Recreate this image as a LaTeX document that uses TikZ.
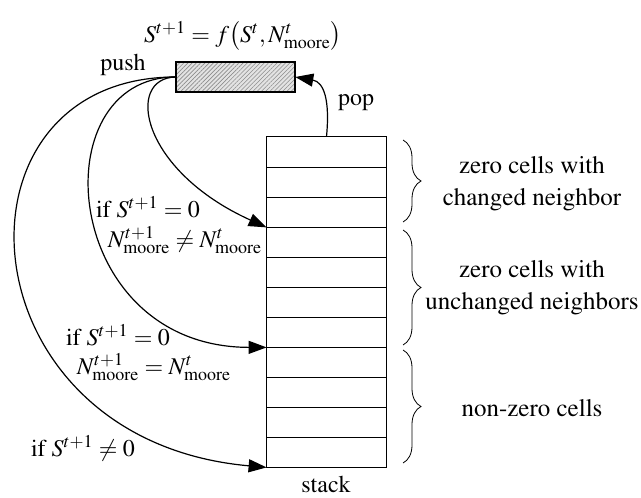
\documentclass[tikz,border=0pt]{standalone}
\usepackage[T1]{fontenc}
\usepackage{mathptmx}
\usepackage{tikz}
\usetikzlibrary{arrows.meta,calc,positioning,patterns.meta}
\usetikzlibrary{decorations.pathreplacing}

\tikzset{
  txt/.style={font=\fontsize{12}{16}\selectfont, inner sep=0pt},
  grptxt/.style={font=\fontsize{12.5}{16}\selectfont, inner sep=0pt, align=center},
  cell/.style={minimum width=59.5pt, minimum height=15pt, inner sep=0pt},
  buffer/.style={draw, line width=0.6pt, minimum width=59.5pt, minimum height=15pt, inner sep=0pt,
    pattern={Lines[angle=45,distance=1.5pt,line width=0.3pt]}, pattern color=gray!90},
  flow/.style={line width=0.6pt, -{Triangle[length=9pt,width=6.5pt]}},
  grp/.style={line width=0.4pt, decorate, decoration={brace, amplitude=9pt}}
}

\begin{document}
\begin{tikzpicture}[x=0.5pt, y=-0.5pt]
            \useasboundingbox (0,0) rectangle (641,497);
            \def\top{137}
            \def\h{30}
            % stack cells
            \foreach \i in {1,...,11}
              \node[cell] (c\i) at (326.5, {\top+\h*(\i-0.5)}) {};
            \draw[line width=0.6pt] (c1.north west) rectangle (c11.south east);
            \foreach \i in {1,...,10}
              \draw[line width=0.6pt] (c\i.south west) -- (c\i.south east);
            \node[txt] (stack) at (326,484) {stack};
            % buffer
            \fill[gray!22] (176,62) rectangle (295,92);
            \node[buffer] (buf) at (235.5,77) {};
            \node[txt] (rule) at (243,36) {$S^{t+1}=f\bigl(S^{t},N^{t}_{\mathrm{moore}}\bigr)$};
            \node[txt] (push) at (123,65) {push};
            \node[txt] (pop) at (356,103) {pop};
            % pop
            \draw[flow] (c1.north) .. controls (330,100) and (324,82) .. (buf.east);
            % push
            \draw[flow] (buf.west) .. controls (125,78) and (140,170) .. (c3.south west);
            \draw[flow] (buf.west) .. controls (40,77) and (60,347) .. (c7.south west);
            \draw[flow] (buf.west) .. controls (-60,77) and (-40,440) .. (c11.south west);
            % conditions
            \node[txt] (ifa) at (148,207) {if $S^{t+1}=0$};
            \node[txt] (na) at (185,240) {$N^{t+1}_{\mathrm{moore}}\neq N^{t}_{\mathrm{moore}}$};
            \node[txt] (ifb) at (118,335) {if $S^{t+1}=0$};
            \node[txt] (nb) at (154,367) {$N^{t+1}_{\mathrm{moore}}=N^{t}_{\mathrm{moore}}$};
            \node[txt] (ifc) at (83,448) {if $S^{t+1}\neq 0$};
            % groups
            \draw[grp] (403,140) -- (403,222);
            \draw[grp] (403,230) -- (403,345);
            \draw[grp] (403,350) -- (403,463);
            \node[grptxt] (g1) at (532,184) {zero cells with\\changed neighbor};
            \node[grptxt] (g2) at (532,288) {zero cells with\\unchanged neighbors};
            \node[grptxt] (g3) at (532,408) {non-zero cells};
          \end{tikzpicture}
\end{document}
